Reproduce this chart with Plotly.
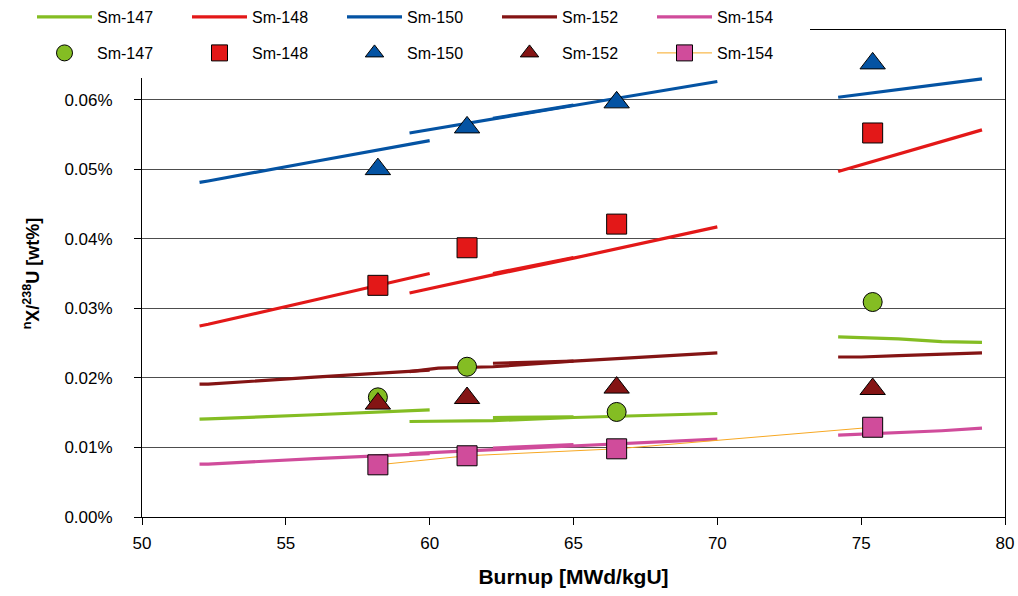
import plotly.graph_objects as go

# ---- calculated inventories (wt% relative to U-238), several burnup segments ----
BU_A = [52.0, 52.3, 56.0, 60.0]
BU_B = [59.3, 60.3, 62.2, 65.0, 70.0]
BU_C = [62.2, 65.0]
BU_D = [74.2, 75.0, 76.3, 77.8, 79.2]

CALC_SM147 = {"A": [0.01407, 0.0141, 0.0147, 0.0154],
              "B": [0.01373, 0.01378, 0.01385, 0.0143, 0.01488],
              "C": [0.0143, 0.0144],
              "D": [0.02588, 0.0258, 0.0256, 0.0252, 0.0251]}
CALC_SM148 = {"A": [0.02746, 0.0277, 0.0312, 0.0350],
              "B": [0.0322, 0.0331, 0.0348, 0.0372, 0.0417],
              "C": [0.0350, 0.0373],
              "D": [0.04966, 0.0506, 0.0522, 0.0540, 0.05565]}
CALC_SM150 = {"A": [0.0481, 0.0483, 0.0511, 0.0541],
              "B": [0.0552, 0.0559, 0.0572, 0.0591, 0.0626],
              "C": [0.0573, 0.0592],
              "D": [0.06033, 0.06075, 0.06144, 0.06223, 0.06297]}
CALC_SM152 = {"A": [0.0191, 0.0191, 0.0201, 0.0211],
              "B": [0.0209, 0.0214, 0.0216, 0.0224, 0.0236],
              "C": [0.0221, 0.0224],
              "D": [0.0230, 0.0230, 0.0232, 0.0234, 0.0236]}
CALC_SM154 = {"A": [0.0076, 0.0076, 0.0084, 0.0091],
              "B": [0.0091, 0.0093, 0.0097, 0.0102, 0.0112],
              "C": [0.0099, 0.0104],
              "D": [0.01177, 0.0119, 0.0121, 0.0124, 0.01277]}

# ---- measured values ----
BU_MEAS = [58.2, 61.3, 66.5, 75.4]
MEAS_SM147 = [0.0172, 0.0216, 0.0151, 0.0309]
MEAS_SM148 = [0.0333, 0.0387, 0.0421, 0.0552]
MEAS_SM150 = [0.0500, 0.0560, 0.0596, 0.0652]
MEAS_SM152 = [0.0163, 0.0171, 0.0186, 0.0184]
MEAS_SM154 = [0.0075, 0.0088, 0.0098, 0.0129]

# ---- axis ticks ----
X_TICKS = [50, 55, 60, 65, 70, 75, 80]
Y_TICKS = [0.00, 0.01, 0.02, 0.03, 0.04, 0.05, 0.06]
Y_TICK_TEXT = [f"{v:.2f}%" for v in Y_TICKS]

NAMES = ["Sm-147", "Sm-148", "Sm-150", "Sm-152", "Sm-154"]
COLORS = ["#84BD23", "#E31818", "#0453A3", "#841414", "#D04C9B"]
SYMBOLS = ["circle", "square", "triangle-up", "triangle-up", "square"]
SIZES = [19, 20, 22, 22, 20]
LINK_COLOR = "#F7A823"

FONT = "Arial, 'Liberation Sans', sans-serif"
W, H = 1018, 596
ML, MR, MT, MB = 142, 13, 30, 79
PW, PH = W - ML - MR, H - MT - MB


def px_x(p):
    return (p - ML) / PW


def px_y(p):
    return (H - MB - p) / PH


def joined(calc):
    xs, ys = [], []
    for key, bu in (("A", BU_A), ("B", BU_B), ("C", BU_C), ("D", BU_D)):
        xs += bu + [None]
        ys += calc[key] + [None]
    return xs, ys


fig = go.Figure()

for name, color, calc in zip(NAMES, COLORS,
                             [CALC_SM147, CALC_SM148, CALC_SM150, CALC_SM152, CALC_SM154]):
    xs, ys = joined(calc)
    fig.add_trace(go.Scatter(x=xs, y=ys, mode="lines", name=name,
                             line=dict(color=color, width=3.2),
                             connectgaps=False, legend="legend"))

for i, (name, color, meas) in enumerate(zip(NAMES, COLORS,
                                            [MEAS_SM147, MEAS_SM148, MEAS_SM150, MEAS_SM152, MEAS_SM154])):
    linked = (i == 4)
    fig.add_trace(go.Scatter(
        x=BU_MEAS, y=meas, name=name,
        mode="lines+markers" if linked else "markers",
        line=dict(color=LINK_COLOR, width=1),
        marker=dict(symbol=SYMBOLS[i], size=SIZES[i], color=color,
                    line=dict(color="black", width=1)),
        legend="legend2"))

# white panel behind the legend rows
fig.add_shape(type="rect", xref="paper", yref="paper",
              x0=px_x(0), x1=px_x(810), y0=px_y(78), y1=px_y(-2),
              fillcolor="white", line=dict(width=0), layer="above")

LEG_RIGHT = 807
legend_common = dict(orientation="h", xref="paper", yref="paper",
                     xanchor="right", yanchor="top", x=px_x(LEG_RIGHT),
                     bgcolor="rgba(0,0,0,0)", borderwidth=0,
                     itemwidth=55,
                     entrywidth=85, entrywidthmode="pixels",
                     font=dict(family=FONT, size=16, color="black"))

fig.update_layout(
    width=W, height=H,
    margin=dict(l=ML, r=MR, t=MT, b=MB, autoexpand=False),
    paper_bgcolor="white", plot_bgcolor="white",
    font=dict(family=FONT, size=17, color="black"),
    legend=dict(legend_common, y=px_y(0)),
    legend2=dict(legend_common, y=px_y(36)),
    xaxis=dict(range=[50, 80], tickvals=X_TICKS,
               showgrid=False, zeroline=False,
               showline=True, linecolor="black", linewidth=1, mirror=True,
               ticks="outside", ticklen=7, tickcolor="black",
               ticklabelstandoff=4,
               tickfont=dict(size=17),
               title=dict(text="<b>Burnup [MWd/kgU]</b>", font=dict(size=21), standoff=16)),
    yaxis=dict(range=[0, 0.07], tickvals=Y_TICKS, ticktext=Y_TICK_TEXT,
               showgrid=True, gridcolor="#4d4d4d", gridwidth=1, zeroline=False,
               showline=True, linecolor="black", linewidth=1, mirror=True,
               ticks="outside", ticklen=7, tickcolor="black",
               ticklabelstandoff=18,
               tickfont=dict(size=17),
               title=dict(text="<b><sup>n</sup>X/<sup>238</sup>U [wt%]</b>",
                          font=dict(size=18), standoff=20)),
    showlegend=True,
)

fig.write_html("out.html")
